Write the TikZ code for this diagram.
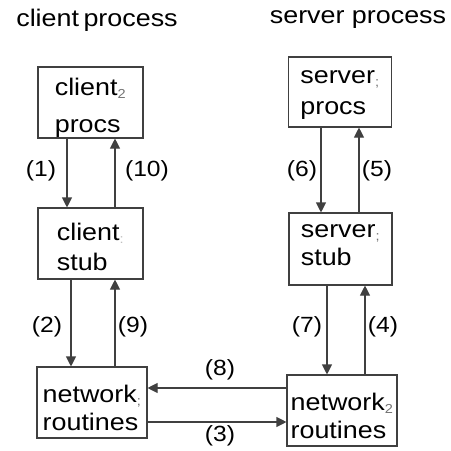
\documentclass[tikz,border=0pt]{standalone}
\usepackage{fontspec}
\setmainfont{Liberation Sans}[FakeStretch=1.12]
\usetikzlibrary{arrows.meta}

\newcommand{\smallmark}[1]{\textsubscript{\fontsize{13}{13}\selectfont\color{black!55}#1}}
\newcommand{\upstrut}[1]{\rule{0pt}{#1pt}}
\newcommand{\downstrut}[1]{\rule[-#1pt]{0pt}{#1pt}}

\begin{document}
\begin{tikzpicture}[
    x=1pt, y=-1pt,
    proc/.style={draw=black!75, line width=1.1pt, align=left, inner sep=0pt,
                 minimum height=71pt, font=\fontsize{24}{28}\selectfont},
    title/.style={font=\fontsize{24}{26}\selectfont},
    num/.style={font=\fontsize{22}{24}\selectfont},
    flow/.style={-{Triangle[width=10pt,length=10pt]}, line width=1.1pt, draw=black!75}
]
\useasboundingbox (0,0) rectangle (451,451);

\node[title] (ctitle) at (97,20) {client\hspace{-3pt} process};
\node[title] (stitle) at (358,20) {server process};

% client side
\node[proc, minimum width=105pt, font=\fontsize{24}{37}\selectfont] (cprocs) at (90.5,102.5)
    {\upstrut{28}client\smallmark{2}\\procs\downstrut{6}};
\node[proc, minimum width=105pt, font=\fontsize{24}{30}\selectfont] (cstub) at (90.5,243.5)
    {\upstrut{29}client\smallmark{\color{black!25}:}\\stub\downstrut{6}};
\node[proc, minimum width=110pt] (cnet) at (92,402.5)
    {\upstrut{33}network\smallmark{;}\\routines\downstrut{6}};

% server side
\node[proc, minimum width=103pt, minimum height=70pt, font=\fontsize{24}{31}\selectfont] (sprocs) at (340,92)
    {\upstrut{19}server\smallmark{;}\\procs\downstrut{6}};
\node[proc, minimum width=103pt, minimum height=72pt] (sstub) at (340.5,249)
    {\upstrut{14}server\smallmark{;}\\stub\downstrut{10}};
\node[proc, minimum width=110pt] (snet) at (342,410.5)
    {\upstrut{33}network\smallmark{2}\\routines\downstrut{6}};

% calls down and returns up
\draw[flow] (cprocs.south -| 67,0) -- (cstub.north -| 67,0);
\draw[flow] (cstub.north -| 115,0) -- (cprocs.south -| 115,0);
\draw[flow] (cstub.south -| 71,0) -- (cnet.north -| 71,0);
\draw[flow] (cnet.north -| 115,0) -- (cstub.south -| 115,0);

\draw[flow] (sprocs.south -| 321,0) -- (sstub.north -| 321,0);
\draw[flow] (sstub.north -| 359,0) -- (sprocs.south -| 359,0);
\draw[flow] (sstub.south -| 327,0) -- (snet.north -| 327,0);
\draw[flow] (snet.north -| 365,0) -- (sstub.south -| 365,0);

% over the network
\draw[flow] (snet.west |- 0,388) -- (cnet.east |- 0,388);
\draw[flow] (cnet.east |- 0,422) -- (snet.west |- 0,422);

\node[num] (n1) at (41,171) {(1)};
\node[num] (n10) at (147,171) {(10)};
\node[num] (n2) at (47,327) {(2)};
\node[num] (n9) at (133,327) {(9)};
\node[num] (n6) at (302,171) {(6)};
\node[num] (n5) at (377,171) {(5)};
\node[num] (n7) at (307,327) {(7)};
\node[num] (n4) at (383,327) {(4)};
\node[num] (n8) at (220,370) {(8)};
\node[num] (n3) at (220,436) {(3)};

\end{tikzpicture}
\end{document}
